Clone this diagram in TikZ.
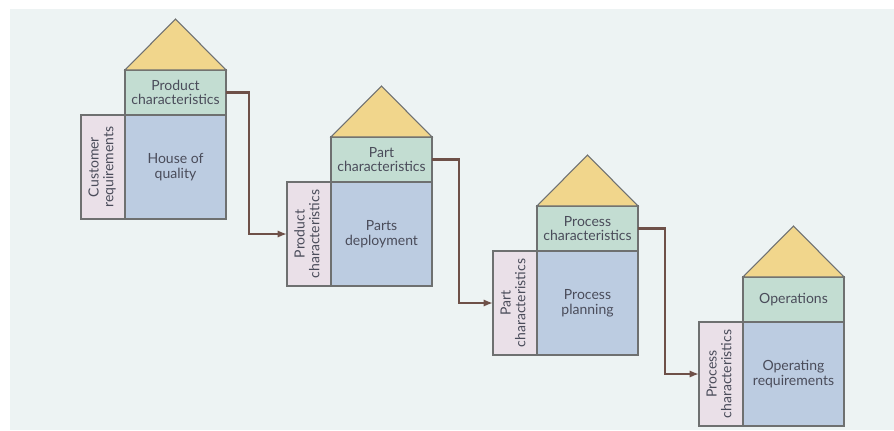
\documentclass[tikz,border=0pt]{standalone}
\usepackage{fontspec}
\setmainfont{Lato}
\usetikzlibrary{arrows.meta,calc}
\definecolor{bgc}{HTML}{EDF3F3}
\definecolor{roofc}{HTML}{F1D68C}
\definecolor{topc}{HTML}{C3DDD2}
\definecolor{mainc}{HTML}{BCCCE1}
\definecolor{leftc}{HTML}{EAE0E8}
\definecolor{edgec}{HTML}{6E7070}
\definecolor{txtc}{HTML}{4A4C5A}
\definecolor{arrc}{HTML}{6E5048}
\tikzset{
  hbox/.style={draw=edgec, line width=0.8pt, inner sep=0pt, outer sep=0pt, anchor=center,
    align=center, text=txtc, font=\fontsize{10.5}{11}\selectfont},
  topbox/.style={hbox, fill=topc, minimum width=75.75pt, minimum height=33.75pt},
  mainbox/.style={hbox, fill=mainc, minimum width=75.75pt, minimum height=78pt},
  leftbox/.style={hbox, fill=leftc, minimum width=33pt, minimum height=78pt},
  roof/.style={draw=edgec, line width=0.8pt, fill=roofc, line join=miter},
  conn/.style={draw=arrc, line width=1.6pt, -{Latex[length=7pt,width=5.5pt]}}
}
% #1 name, #2 mx, #3 ty, #4 top text, #5 main text, #6 left line 1, #7 left line 2
\newcommand\qhouse[7]{%
  \node[leftbox] (#1l) at (#2-22,#3+97)
    {\rotatebox{90}{\begin{tabular}{@{}c@{}}#6\\#7\end{tabular}}};
  \node[mainbox] (#1m) at (#2+50.5,#3+97) {#5};
  \node[topbox] (#1t) at (#2+50.5,#3+22.5) {#4};
  \coordinate (#1a) at ($(#1t.north)+(0,-51)$);
  \filldraw[roof] (#1t.north west) -- (#1a) -- (#1t.north east) -- cycle;
}
\begin{document}
\begin{tikzpicture}[x=0.75pt,y=-0.75pt]
\useasboundingbox (0,0) rectangle (894,430);
\fill[white] (0,0) rectangle (894,430);
\fill[bgc] (10,9) rectangle (894,430);
\qhouse{h1}{125}{70}{Product\\characteristics}{House of\\quality}{Customer}{requirements}
\qhouse{h2}{331}{137}{Part\\characteristics}{Parts\\deployment}{Product}{characteristics}
\qhouse{h3}{537}{206}{Process\\characteristics}{Process\\planning}{Part}{characteristics}
\qhouse{h4}{743}{277}{Operations}{Operating\\requirements}{Process}{characteristics}
\draw[conn] (h1t.east) -- ++(23,0) |- (h2l.west);
\draw[conn] (h2t.east) -- ++(27,0) |- (h3l.west);
\draw[conn] (h3t.east) -- ++(27,0) |- (h4l.west);
\end{tikzpicture}
\end{document}
